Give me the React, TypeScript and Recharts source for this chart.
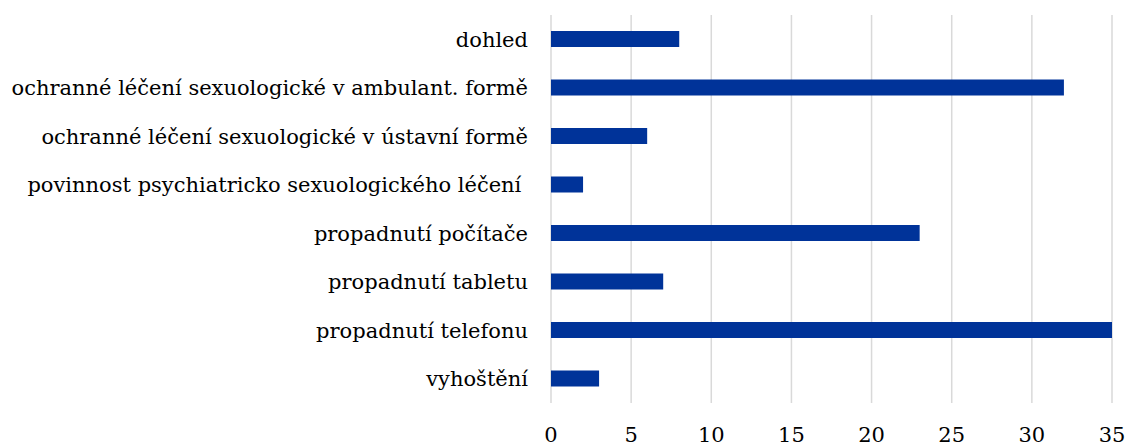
import { Bar, BarChart, CartesianGrid, XAxis, YAxis } from "recharts";

const categories = [
  "dohled",
  "ochranné léčení sexuologické v ambulant. formě",
  "ochranné léčení sexuologické v ústavní formě",
  "povinnost psychiatricko sexuologického léčení\u00A0",
  "propadnutí počítače",
  "propadnutí tabletu",
  "propadnutí telefonu",
  "vyhoštění",
];

const counts = [8, 32, 6, 2, 23, 7, 35, 3];

const xTicks = [0, 5, 10, 15, 20, 25, 30, 35];

const data = categories.map((name, i) => ({ name, value: counts[i] }));

const fontFamily = "'DejaVu Serif'";
const fontSize = 21;

function CategoryTick({ x, y, payload }: any) {
  return (
    <text
      x={x}
      y={y}
      dy="0.36em"
      textAnchor="end"
      fill="#000"
      style={{ whiteSpace: "pre", fontFamily, fontSize }}
    >
      {payload.value}
    </text>
  );
}

function ValueTick({ x, y, payload }: any) {
  return (
    <text
      x={x}
      y={y}
      dy="0.71em"
      textAnchor="middle"
      fill="#000"
      style={{ fontFamily, fontSize: 21 }}
    >
      {payload.value}
    </text>
  );
}

export default function App() {
  return (
    <div style={{ position: "absolute", left: 0, top: 0, width: 1125, height: 446, background: "#fff" }}>
      <BarChart
        width={1125}
        height={446}
        data={data}
        layout="vertical"
        margin={{ top: 15, right: 13, bottom: 0, left: 0 }}
        barCategoryGap={0}
      >
        <CartesianGrid horizontal={false} vertical stroke="#d9d9d9" strokeWidth={1.5} />
        <XAxis
          type="number"
          domain={[0, 35]}
          ticks={xTicks}
          allowDataOverflow
          axisLine={false}
          tickLine={false}
          tickSize={0}
          tickMargin={24}
          height={43}
          interval={0}
          tick={<ValueTick />}
        />
        <YAxis
          type="category"
          dataKey="name"
          width={551}
          axisLine={false}
          tickLine={false}
          tickSize={0}
          tickMargin={23}
          interval={0}
          tick={<CategoryTick />}
        />
        <Bar dataKey="value" fill="#003399" barSize={16} isAnimationActive={false} />
      </BarChart>
    </div>
  );
}
